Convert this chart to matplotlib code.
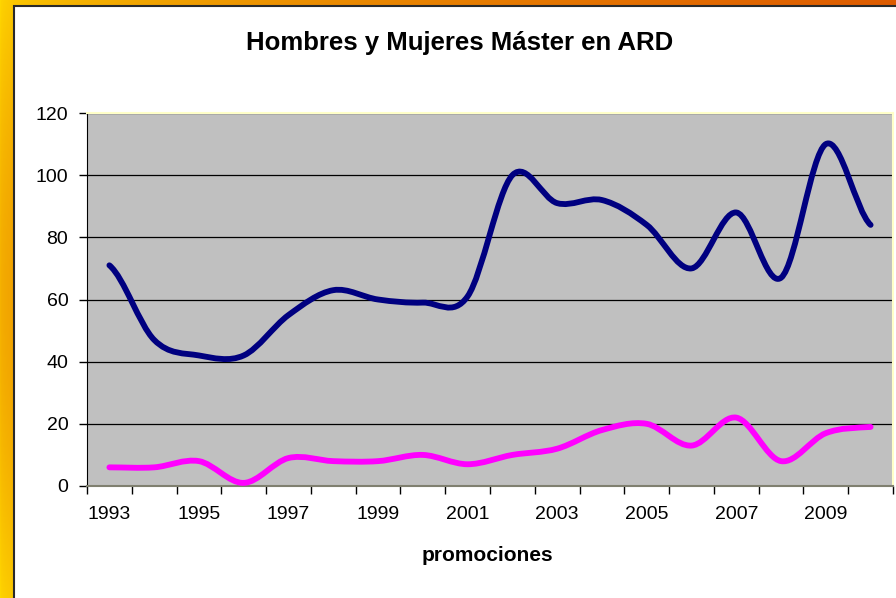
import matplotlib.pyplot as plt
import numpy as np
from matplotlib.path import Path
from matplotlib.patches import PathPatch, Rectangle

plt.rcParams['font.family'] = ['Liberation Sans', 'DejaVu Sans']

years = list(range(1993, 2011))
hombres = [71, 47, 42, 42, 55, 63, 60, 59, 61, 100, 91, 92, 84, 70, 88, 67, 110, 84]
mujeres = [6, 6, 8, 1, 9, 8, 8, 10, 7, 10, 12, 18, 20, 13, 22, 8, 17, 19]
year_labels = [str(y) if (y - years[0]) % 2 == 0 else '' for y in years]


def smooth_path(vals):
    # Excel-style smoothed line: cubic Bezier segments through each point
    x = np.arange(len(vals), dtype=float)
    y = np.asarray(vals, dtype=float)
    yp = np.concatenate([[y[0]], y, [y[-1]]])
    m = (yp[2:] - yp[:-2]) / 2
    verts = [(x[0], y[0])]
    codes = [Path.MOVETO]
    for i in range(len(y) - 1):
        verts += [(x[i] + 1 / 3, y[i] + m[i] / 3),
                  (x[i + 1] - 1 / 3, y[i + 1] - m[i + 1] / 3),
                  (x[i + 1], y[i + 1])]
        codes += [Path.CURVE4] * 3
    return Path(verts, codes)


W, H = 896, 598
fig = plt.figure(figsize=(W / 100, H / 100), dpi=100)

# orange/gold frame behind the white chart area
bg = fig.add_axes([0, 0, 1, 1])
xx, yy = np.meshgrid(np.linspace(0, 1, W), np.linspace(0, 1, H))
t = np.clip(np.sqrt(xx) + 0.3 * np.sin(np.pi * yy), 0, 1)[..., None]
c0 = np.array([1.0, 0.84, 0.0])
c1 = np.array([0.87, 0.36, 0.0])
bg.imshow(c0 * (1 - t) + c1 * t, aspect='auto', extent=[0, 1, 0, 1])
bg.add_patch(Rectangle((13.5 / W, -0.01), 1, 1 - 6 / H + 0.01,
                       facecolor='white', edgecolor='#2a2a2a', lw=1.5,
                       transform=bg.transAxes, clip_on=False))
bg.set_axis_off()

ax = fig.add_axes([87 / W, 1 - 486 / H, (893 - 87) / W, (486 - 113) / H])
ax.set_facecolor('#C0C0C0')

for vals, col in ((hombres, '#000080'), (mujeres, '#FF00FF')):
    ax.add_patch(PathPatch(smooth_path(vals), fill=False, edgecolor=col,
                           lw=4.2, capstyle='round', joinstyle='round', zorder=3))

ax.set_xlim(-0.5, len(years) - 0.5)
ax.set_ylim(0, 120)
ax.set_yticks(range(0, 121, 20))
ax.set_xticks(np.arange(-0.5, len(years)))
ax.set_xticks(np.arange(len(years)), minor=True)
ax.set_xticklabels(year_labels, minor=True)
ax.tick_params(axis='x', which='major', length=5.5, width=1, color='black',
               labelbottom=False)
ax.tick_params(axis='x', which='minor', length=0, pad=14.5, labelsize=14)
ax.tick_params(axis='y', length=5.5, width=1, color='black', pad=8, labelsize=14)

ax.yaxis.grid(True, color='black', lw=0.9)
ax.set_axisbelow(True)
ax.spines['top'].set_color('#FFFFC8')
ax.spines['right'].set_color('#FFFFC8')
ax.spines['top'].set_linewidth(1.5)
ax.spines['right'].set_linewidth(1.5)
ax.spines['left'].set_color('black')
ax.spines['bottom'].set_color('#808070')
ax.spines['bottom'].set_linewidth(1.5)

fig.text(460 / W, 1 - 50 / H, 'Hombres y Mujeres Máster en ARD',
         ha='center', va='baseline', fontsize=18.5, weight='bold')
fig.text(487 / W, 1 - 561 / H, 'promociones',
         ha='center', va='baseline', fontsize=15, weight='bold')

fig.savefig('out.png', dpi=100)
